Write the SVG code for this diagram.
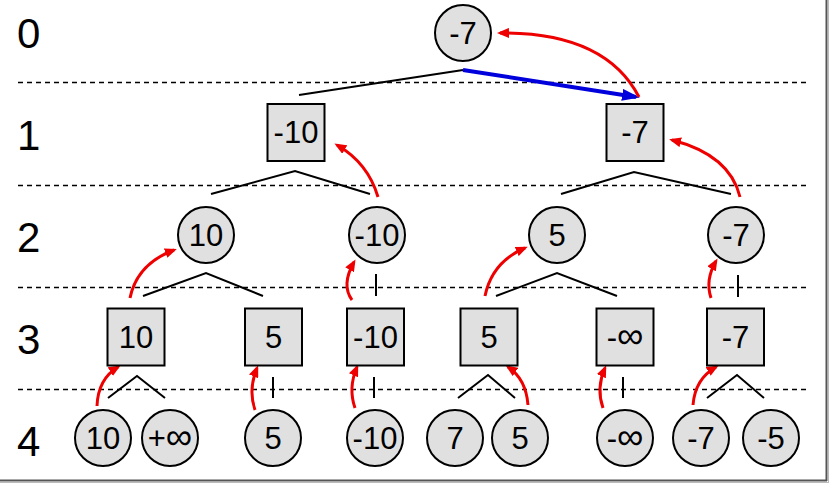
<svg xmlns="http://www.w3.org/2000/svg" width="829" height="485" viewBox="0 0 829 485">
<style>
.bg{fill:#fff}
.dash{stroke:#000;stroke-width:1.4;stroke-dasharray:5 4}
.lvl{font-family:"Liberation Sans",Arial,sans-serif;font-size:42px;fill:#000}
.n{fill:#e0e0e0;stroke:#000;stroke-width:2}
.t{font-family:"Liberation Sans",Arial,sans-serif;font-size:31px;fill:#000;text-anchor:middle}
.inf{font-size:37px}
.edge{stroke:#000;stroke-width:2;fill:none}
.red{stroke:#e00;stroke-width:3;fill:none;marker-end:url(#ra)}
.blue{stroke:#00d;stroke-width:4;fill:none;marker-end:url(#ba)}
</style>
<defs>
<marker id="ra" markerUnits="userSpaceOnUse" viewBox="0 0 12 10" markerWidth="12" markerHeight="10" refX="9" refY="5" orient="auto">
<path d="M0,0 L12,5 L0,10 z" fill="#e00"/>
</marker>
<marker id="ba" markerUnits="userSpaceOnUse" viewBox="0 0 18 12" markerWidth="18" markerHeight="12" refX="14" refY="6" orient="auto">
<path d="M0,0 L18,6 L0,12 z" fill="#00d"/>
</marker>
</defs>
<rect class="bg" x="0" y="0" width="829" height="485"/>
<g id="frame">
<line x1="826.5" y1="0" x2="826.5" y2="481" stroke="#555" stroke-width="2"/>
<line x1="0" y1="480.5" x2="827" y2="480.5" stroke="#555" stroke-width="2"/>
<line x1="828.5" y1="0" x2="828.5" y2="483" stroke="#bbb" stroke-width="1"/>
<line x1="0" y1="482.5" x2="829" y2="482.5" stroke="#bbb" stroke-width="1"/>
</g>
<g id="levels">
<line class="dash" x1="18" y1="82.5" x2="810" y2="82.5"/>
<line class="dash" x1="18" y1="185.5" x2="810" y2="185.5"/>
<line class="dash" x1="18" y1="287.5" x2="810" y2="287.5"/>
<line class="dash" x1="18" y1="389.5" x2="810" y2="389.5"/>
<text class="lvl" x="17" y="48">0</text>
<text class="lvl" x="17" y="150">1</text>
<text class="lvl" x="17" y="252">2</text>
<text class="lvl" x="17" y="354">3</text>
<text class="lvl" x="17" y="456">4</text>
</g>
<g id="connectors">
<polyline class="edge" points="299,95 463,70"/>
<polyline class="edge" points="211,194 295,171 370,194"/>
<polyline class="edge" points="561,194 634,172 731,194"/>
<polyline class="edge" points="143,296 206,273 263,296"/>
<line class="edge" x1="376" y1="274" x2="376" y2="296"/>
<polyline class="edge" points="496,296 557,273 617,296"/>
<line class="edge" x1="738" y1="275" x2="738" y2="297"/>
<polyline class="edge" points="108,398 137,376 165,398"/>
<line class="edge" x1="273" y1="377" x2="273" y2="398"/>
<line class="edge" x1="374" y1="377" x2="374" y2="398"/>
<polyline class="edge" points="458,398 488,375 515,398"/>
<line class="edge" x1="623" y1="377" x2="623" y2="398"/>
<polyline class="edge" points="707,398 737,375 764,398"/>
<path class="blue" d="M463,70 L636,97"/>
<path class="red" d="M639,97 Q605,32 500,33"/>
<path class="red" d="M378,197 Q368,163 337,145"/>
<path class="red" d="M740,197 Q730,155 672,140"/>
<path class="red" d="M130,298 Q137,264 174,250"/>
<path class="red" d="M352,300 Q341,285 354,262"/>
<path class="red" d="M485,296 Q492,262 525,248"/>
<path class="red" d="M711,298 Q705,280 716,261"/>
<path class="red" d="M97,406 Q98,379 118,367"/>
<path class="red" d="M255,410 Q248,390 257,368"/>
<path class="red" d="M355,408 Q348,388 357,367"/>
<path class="red" d="M528,405 Q526,379 508,367"/>
<path class="red" d="M603,408 Q596,388 605,368"/>
<path class="red" d="M693,405 Q695,379 716,367"/>
</g>
<g id="n0"><circle class="n" cx="463" cy="33" r="28"/><text class="t" x="463" y="44">-7</text></g>
<g id="n1a"><rect class="n" x="267.5" y="104" width="57" height="57"/><text class="t" x="296" y="143">-10</text></g>
<g id="n1b"><rect class="n" x="606.5" y="104" width="57" height="57"/><text class="t" x="635" y="143">-7</text></g>
<g id="n2a"><circle class="n" cx="206" cy="235" r="28"/><text class="t" x="206" y="246">10</text></g>
<g id="n2b"><circle class="n" cx="377" cy="235" r="28"/><text class="t" x="377" y="246">-10</text></g>
<g id="n2c"><circle class="n" cx="557" cy="235" r="28"/><text class="t" x="557" y="246">5</text></g>
<g id="n2d"><circle class="n" cx="736" cy="235" r="28"/><text class="t" x="736" y="246">-7</text></g>
<g id="n3a"><rect class="n" x="107.5" y="308.5" width="57" height="57"/><text class="t" x="136" y="348">10</text></g>
<g id="n3b"><rect class="n" x="245" y="308.5" width="57" height="57"/><text class="t" x="273.5" y="348">5</text></g>
<g id="n3c"><rect class="n" x="347" y="308.5" width="57" height="57"/><text class="t" x="375.5" y="348">-10</text></g>
<g id="n3d"><rect class="n" x="460.5" y="308.5" width="57" height="57"/><text class="t" x="489" y="348">5</text></g>
<g id="n3e"><rect class="n" x="596.5" y="308.5" width="57" height="57"/><text class="t" x="625" y="348">-<tspan class="inf">∞</tspan></text></g>
<g id="n3f"><rect class="n" x="707" y="308.5" width="57" height="57"/><text class="t" x="735.5" y="348">-7</text></g>
<g id="n4a"><circle class="n" cx="103" cy="438" r="28"/><text class="t" x="103" y="449">10</text></g>
<g id="n4b"><circle class="n" cx="170" cy="438" r="28"/><text class="t" x="170" y="449">+<tspan class="inf">∞</tspan></text></g>
<g id="n4c"><circle class="n" cx="273" cy="438" r="28"/><text class="t" x="273" y="449">5</text></g>
<g id="n4d"><circle class="n" cx="375" cy="438" r="28"/><text class="t" x="375" y="449">-10</text></g>
<g id="n4e"><circle class="n" cx="455" cy="438" r="28"/><text class="t" x="455" y="449">7</text></g>
<g id="n4f"><circle class="n" cx="520" cy="438" r="28"/><text class="t" x="520" y="449">5</text></g>
<g id="n4g"><circle class="n" cx="625" cy="438" r="28"/><text class="t" x="625" y="449">-<tspan class="inf">∞</tspan></text></g>
<g id="n4h"><circle class="n" cx="701" cy="438" r="28"/><text class="t" x="701" y="449">-7</text></g>
<g id="n4i"><circle class="n" cx="771" cy="438" r="28"/><text class="t" x="771" y="449">-5</text></g>
</svg>
